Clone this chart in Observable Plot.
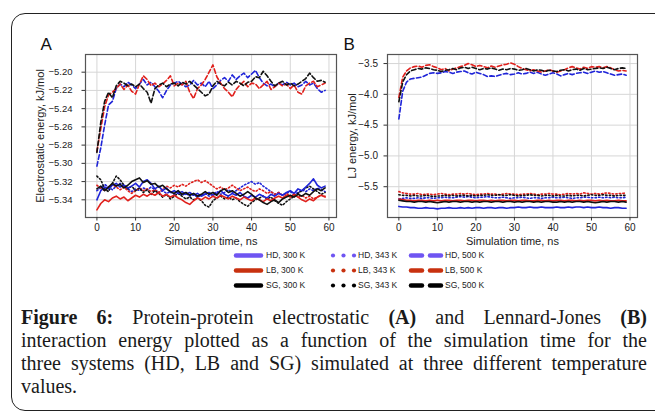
<!DOCTYPE html>
<html><head><meta charset="utf-8">
<script src="https://cdn.jsdelivr.net/npm/d3@7"></script>
<script src="https://cdn.jsdelivr.net/npm/@observablehq/plot@0.6"></script>
<style>
body{margin:0;background:#fff;width:655px;height:412px;overflow:hidden;position:relative;font-family:"Liberation Sans",Arial,sans-serif;}
#frame{position:absolute;left:11px;top:13px;width:700px;height:398px;border:1.4px solid #222;border-radius:14px;box-sizing:border-box;}
#pa{position:absolute;left:0;top:30px;}
#pb{position:absolute;left:330px;top:30px;}
#pa svg,#pb svg{background:transparent;overflow:visible;}
#legend{position:absolute;left:0;top:0;width:655px;height:300px;pointer-events:none;}
#caption{position:absolute;left:21px;width:626px;top:306px;font-family:"Liberation Serif","Times New Roman",serif;font-size:20px;line-height:23px;color:#1a1a1a;}
#caption .j{text-align:justify;text-align-last:justify;}
</style></head><body>
<div id="frame"></div>
<div id="pa"></div>
<div id="pb"></div>
<svg id="legend"></svg>
<div id="caption">
<div class="j"><b>Figure 6:</b> Protein-protein electrostatic <b>(A)</b> and Lennard-Jones <b>(B)</b></div>
<div class="j">interaction energy plotted as a function of the simulation time for the</div>
<div class="j">three systems (HD, LB and SG) simulated at three different temperature</div>
<div>values.</div>
</div>
<script>
const time = [0,1,2,3,4,5,6,7,8,9,10,11,12,13,14,15,16,17,18,19,20,21,22,23,24,25,26,27,28,29,30,31,32,33,34,35,36,37,38,39,40,41,42,43,44,45,46,47,48,49,50,51,52,53,54,55,56,57,58,59];
const systems = ["HD","LB","SG"];
const temps = ["300 K","343 K","500 K"];
const lineColors = ["#1f24d8","#e0201c","#111111"];
const legendColors = ["#6f55f2","#c8310f","#000000"];
const xTicks = [0,10,20,30,40,50,60];
const aYTicks = [-5.34,-5.32,-5.30,-5.28,-5.26,-5.24,-5.22,-5.20];
const bYTicks = [-5.5,-5.0,-4.5,-4.0,-3.5];

// Panel A: electrostatic energy
const A_HD_300 = [-5.340,-5.330,-5.326,-5.328,-5.324,-5.322,-5.326,-5.324,-5.327,-5.325,-5.322,-5.326,-5.320,-5.318,-5.322,-5.328,-5.325,-5.330,-5.327,-5.332,-5.330,-5.333,-5.331,-5.334,-5.332,-5.335,-5.333,-5.336,-5.334,-5.332,-5.335,-5.333,-5.330,-5.334,-5.336,-5.333,-5.335,-5.332,-5.336,-5.338,-5.335,-5.337,-5.334,-5.336,-5.338,-5.334,-5.336,-5.333,-5.335,-5.332,-5.330,-5.333,-5.328,-5.330,-5.326,-5.322,-5.317,-5.324,-5.327,-5.325];
const A_LB_300 = [-5.351,-5.344,-5.340,-5.342,-5.338,-5.336,-5.339,-5.337,-5.341,-5.338,-5.335,-5.337,-5.334,-5.336,-5.333,-5.335,-5.332,-5.336,-5.334,-5.337,-5.335,-5.338,-5.340,-5.343,-5.345,-5.341,-5.338,-5.340,-5.337,-5.339,-5.336,-5.338,-5.335,-5.337,-5.339,-5.336,-5.338,-5.340,-5.337,-5.339,-5.341,-5.338,-5.340,-5.342,-5.339,-5.341,-5.338,-5.336,-5.338,-5.335,-5.337,-5.334,-5.337,-5.340,-5.342,-5.339,-5.341,-5.337,-5.335,-5.337];
const A_SG_300 = [-5.328,-5.325,-5.330,-5.326,-5.322,-5.325,-5.323,-5.327,-5.324,-5.320,-5.318,-5.316,-5.321,-5.319,-5.323,-5.322,-5.326,-5.324,-5.328,-5.331,-5.333,-5.330,-5.334,-5.332,-5.335,-5.333,-5.336,-5.334,-5.331,-5.334,-5.332,-5.335,-5.330,-5.328,-5.332,-5.330,-5.333,-5.336,-5.334,-5.331,-5.334,-5.338,-5.340,-5.343,-5.345,-5.342,-5.340,-5.343,-5.339,-5.337,-5.335,-5.337,-5.334,-5.336,-5.333,-5.335,-5.331,-5.328,-5.330,-5.327];
const A_HD_343 = [-5.330,-5.327,-5.323,-5.326,-5.329,-5.325,-5.322,-5.325,-5.328,-5.331,-5.328,-5.330,-5.327,-5.329,-5.326,-5.329,-5.332,-5.330,-5.333,-5.331,-5.334,-5.332,-5.335,-5.333,-5.336,-5.334,-5.337,-5.335,-5.333,-5.336,-5.334,-5.331,-5.334,-5.332,-5.329,-5.332,-5.330,-5.327,-5.324,-5.322,-5.320,-5.323,-5.321,-5.325,-5.328,-5.331,-5.334,-5.332,-5.335,-5.333,-5.331,-5.334,-5.332,-5.329,-5.331,-5.328,-5.330,-5.327,-5.329,-5.331];
const A_LB_343 = [-5.324,-5.327,-5.330,-5.326,-5.323,-5.326,-5.329,-5.326,-5.330,-5.333,-5.330,-5.327,-5.330,-5.328,-5.331,-5.329,-5.332,-5.328,-5.325,-5.327,-5.324,-5.326,-5.323,-5.325,-5.322,-5.320,-5.318,-5.321,-5.319,-5.322,-5.325,-5.328,-5.326,-5.329,-5.327,-5.324,-5.327,-5.330,-5.328,-5.326,-5.329,-5.331,-5.328,-5.330,-5.333,-5.331,-5.334,-5.332,-5.335,-5.333,-5.336,-5.334,-5.337,-5.335,-5.338,-5.336,-5.339,-5.337,-5.335,-5.336];
const A_SG_343 = [-5.314,-5.318,-5.328,-5.331,-5.322,-5.314,-5.318,-5.324,-5.328,-5.325,-5.330,-5.327,-5.332,-5.329,-5.334,-5.330,-5.333,-5.337,-5.334,-5.339,-5.336,-5.333,-5.336,-5.339,-5.337,-5.340,-5.338,-5.341,-5.346,-5.348,-5.341,-5.338,-5.336,-5.339,-5.337,-5.340,-5.338,-5.342,-5.345,-5.347,-5.343,-5.340,-5.338,-5.336,-5.339,-5.337,-5.341,-5.344,-5.346,-5.342,-5.339,-5.336,-5.333,-5.330,-5.327,-5.325,-5.328,-5.331,-5.334,-5.332];
const A_HD_500 = [-5.303,-5.283,-5.258,-5.236,-5.232,-5.218,-5.213,-5.216,-5.211,-5.214,-5.218,-5.213,-5.208,-5.214,-5.211,-5.216,-5.221,-5.228,-5.220,-5.214,-5.212,-5.210,-5.213,-5.216,-5.214,-5.209,-5.214,-5.212,-5.216,-5.210,-5.218,-5.214,-5.209,-5.206,-5.210,-5.203,-5.208,-5.204,-5.201,-5.206,-5.202,-5.198,-5.206,-5.212,-5.215,-5.213,-5.216,-5.212,-5.214,-5.211,-5.214,-5.212,-5.216,-5.214,-5.210,-5.214,-5.212,-5.218,-5.222,-5.220];
const A_LB_500 = [-5.287,-5.262,-5.238,-5.225,-5.222,-5.218,-5.213,-5.219,-5.214,-5.221,-5.224,-5.213,-5.204,-5.208,-5.215,-5.212,-5.216,-5.213,-5.209,-5.204,-5.215,-5.212,-5.214,-5.210,-5.222,-5.229,-5.218,-5.214,-5.208,-5.200,-5.192,-5.205,-5.212,-5.218,-5.222,-5.227,-5.219,-5.214,-5.210,-5.216,-5.212,-5.213,-5.218,-5.214,-5.210,-5.219,-5.216,-5.212,-5.215,-5.213,-5.218,-5.214,-5.222,-5.224,-5.215,-5.212,-5.210,-5.216,-5.214,-5.212];
const A_SG_500 = [-5.288,-5.255,-5.232,-5.222,-5.228,-5.215,-5.210,-5.212,-5.215,-5.213,-5.216,-5.213,-5.218,-5.222,-5.234,-5.218,-5.214,-5.212,-5.216,-5.213,-5.212,-5.215,-5.211,-5.213,-5.210,-5.214,-5.218,-5.222,-5.226,-5.224,-5.215,-5.210,-5.213,-5.215,-5.211,-5.214,-5.210,-5.212,-5.215,-5.211,-5.210,-5.205,-5.206,-5.199,-5.204,-5.210,-5.215,-5.212,-5.210,-5.214,-5.212,-5.215,-5.213,-5.210,-5.207,-5.201,-5.206,-5.210,-5.209,-5.211];

// Panel B: Lennard-Jones energy
const B_HD_300 = [-5.82,-5.83,-5.83,-5.84,-5.84,-5.85,-5.85,-5.84,-5.85,-5.85,-5.86,-5.85,-5.85,-5.84,-5.85,-5.85,-5.84,-5.85,-5.84,-5.85,-5.84,-5.84,-5.85,-5.84,-5.84,-5.85,-5.84,-5.84,-5.85,-5.84,-5.84,-5.83,-5.84,-5.84,-5.83,-5.84,-5.84,-5.83,-5.84,-5.84,-5.84,-5.83,-5.84,-5.84,-5.83,-5.84,-5.83,-5.83,-5.84,-5.83,-5.84,-5.84,-5.83,-5.84,-5.84,-5.85,-5.84,-5.84,-5.85,-5.85];
const B_LB_300 = [-5.70,-5.71,-5.72,-5.72,-5.73,-5.72,-5.72,-5.73,-5.72,-5.73,-5.72,-5.73,-5.72,-5.72,-5.73,-5.72,-5.72,-5.73,-5.72,-5.72,-5.73,-5.72,-5.72,-5.73,-5.72,-5.73,-5.72,-5.72,-5.73,-5.72,-5.72,-5.73,-5.72,-5.72,-5.73,-5.73,-5.72,-5.72,-5.73,-5.72,-5.73,-5.72,-5.72,-5.73,-5.72,-5.72,-5.73,-5.72,-5.73,-5.72,-5.72,-5.73,-5.72,-5.73,-5.72,-5.73,-5.73,-5.72,-5.73,-5.73];
const B_SG_300 = [-5.72,-5.73,-5.74,-5.74,-5.75,-5.74,-5.74,-5.75,-5.74,-5.75,-5.76,-5.75,-5.74,-5.75,-5.74,-5.74,-5.75,-5.74,-5.74,-5.75,-5.74,-5.75,-5.74,-5.74,-5.75,-5.74,-5.74,-5.75,-5.74,-5.74,-5.75,-5.74,-5.75,-5.74,-5.74,-5.75,-5.74,-5.75,-5.74,-5.74,-5.75,-5.75,-5.74,-5.75,-5.74,-5.75,-5.74,-5.74,-5.75,-5.74,-5.75,-5.76,-5.75,-5.74,-5.75,-5.74,-5.74,-5.75,-5.74,-5.75];
const B_HD_343 = [-5.70,-5.69,-5.68,-5.69,-5.69,-5.68,-5.69,-5.68,-5.68,-5.69,-5.68,-5.68,-5.67,-5.68,-5.68,-5.67,-5.66,-5.67,-5.66,-5.67,-5.68,-5.67,-5.67,-5.66,-5.67,-5.68,-5.68,-5.67,-5.68,-5.69,-5.68,-5.68,-5.67,-5.68,-5.69,-5.68,-5.68,-5.69,-5.68,-5.68,-5.67,-5.68,-5.68,-5.67,-5.68,-5.69,-5.68,-5.68,-5.67,-5.67,-5.68,-5.68,-5.67,-5.68,-5.67,-5.68,-5.67,-5.68,-5.68,-5.67];
const B_LB_343 = [-5.58,-5.60,-5.61,-5.62,-5.62,-5.61,-5.63,-5.62,-5.62,-5.63,-5.62,-5.61,-5.62,-5.63,-5.62,-5.62,-5.61,-5.62,-5.61,-5.62,-5.63,-5.62,-5.62,-5.61,-5.62,-5.62,-5.63,-5.62,-5.61,-5.62,-5.62,-5.63,-5.62,-5.62,-5.61,-5.62,-5.63,-5.62,-5.62,-5.61,-5.62,-5.62,-5.63,-5.62,-5.61,-5.62,-5.61,-5.62,-5.60,-5.61,-5.62,-5.61,-5.62,-5.61,-5.60,-5.61,-5.62,-5.61,-5.61,-5.60];
const B_SG_343 = [-5.63,-5.64,-5.64,-5.65,-5.64,-5.65,-5.65,-5.64,-5.65,-5.66,-5.65,-5.65,-5.64,-5.65,-5.64,-5.65,-5.64,-5.64,-5.65,-5.64,-5.65,-5.64,-5.64,-5.63,-5.64,-5.64,-5.63,-5.64,-5.64,-5.63,-5.64,-5.65,-5.64,-5.64,-5.63,-5.64,-5.64,-5.65,-5.64,-5.64,-5.65,-5.64,-5.65,-5.65,-5.64,-5.65,-5.64,-5.64,-5.65,-5.64,-5.63,-5.64,-5.64,-5.63,-5.64,-5.64,-5.65,-5.64,-5.64,-5.64];
const B_HD_500 = [-4.40,-3.95,-3.80,-3.75,-3.74,-3.73,-3.72,-3.69,-3.66,-3.65,-3.66,-3.65,-3.63,-3.64,-3.66,-3.64,-3.63,-3.62,-3.65,-3.67,-3.64,-3.66,-3.68,-3.71,-3.70,-3.71,-3.69,-3.67,-3.66,-3.68,-3.67,-3.65,-3.67,-3.66,-3.64,-3.66,-3.64,-3.67,-3.69,-3.67,-3.65,-3.67,-3.70,-3.68,-3.66,-3.68,-3.66,-3.65,-3.64,-3.66,-3.64,-3.62,-3.64,-3.63,-3.65,-3.67,-3.69,-3.68,-3.67,-3.69];
const B_LB_500 = [-4.05,-3.72,-3.62,-3.57,-3.55,-3.54,-3.56,-3.53,-3.52,-3.55,-3.57,-3.60,-3.58,-3.62,-3.59,-3.57,-3.55,-3.53,-3.50,-3.52,-3.55,-3.53,-3.55,-3.57,-3.54,-3.56,-3.54,-3.52,-3.51,-3.49,-3.51,-3.55,-3.58,-3.60,-3.62,-3.60,-3.62,-3.64,-3.62,-3.60,-3.62,-3.64,-3.62,-3.60,-3.57,-3.55,-3.57,-3.59,-3.56,-3.58,-3.55,-3.56,-3.55,-3.57,-3.55,-3.57,-3.60,-3.62,-3.61,-3.62];
const B_SG_500 = [-4.12,-3.80,-3.68,-3.62,-3.60,-3.58,-3.59,-3.57,-3.58,-3.60,-3.61,-3.63,-3.61,-3.60,-3.58,-3.60,-3.57,-3.56,-3.58,-3.56,-3.58,-3.60,-3.58,-3.59,-3.57,-3.59,-3.61,-3.59,-3.60,-3.58,-3.59,-3.61,-3.60,-3.58,-3.60,-3.62,-3.60,-3.61,-3.63,-3.61,-3.62,-3.63,-3.61,-3.60,-3.62,-3.60,-3.59,-3.61,-3.58,-3.60,-3.59,-3.58,-3.57,-3.58,-3.56,-3.58,-3.60,-3.58,-3.57,-3.58];

function rows(seriesBySys, temp) {
  const out = [];
  systems.forEach((s, k) => seriesBySys[k].forEach((v, i) => out.push({t: time[i], v, sys: s, temp})));
  return out;
}
const dashStyle = {"300 K": null, "343 K": "1.4,2.2", "500 K": "4.5,2.5"};

function panel({series, yDomain, yTicks, fmt, letter, ylabel, width, marginLeft, marginRight, tickPadY, tickFont, ylabDx, letterDx}) {
  const marks = [
    Plot.gridX(xTicks, {stroke: "#d6d6d6", strokeOpacity: 1, strokeWidth: 1}),
    Plot.gridY(yTicks, {stroke: "#d6d6d6", strokeOpacity: 1, strokeWidth: 1})
  ];
  ["343 K", "300 K", "500 K"].forEach(temp => {
    const opts = {x: "t", y: "v", z: "sys", stroke: "sys", strokeWidth: 1.6, curve: "linear"};
    if (dashStyle[temp]) opts.strokeDasharray = dashStyle[temp];
    marks.push(Plot.line(rows(series[temp], temp), opts));
  });
  marks.push(
    Plot.frame({stroke: "#555", strokeWidth: 1.2}),
    Plot.axisX(xTicks, {tickSize: 3.5, tickPadding: 2.5, fontSize: 10, stroke: "#333", fill: "#222", label: null}),
    Plot.axisY(yTicks, {tickSize: 3.5, tickPadding: tickPadY, fontSize: tickFont, tickFormat: fmt, stroke: "#333", fill: "#222", label: null}),
    Plot.text(["Simulation time, ns"], {frameAnchor: "bottom", textAnchor: "middle", lineAnchor: "middle", dy: 23.5, fontSize: 11, fill: "#222"}),
    Plot.text([ylabel], {frameAnchor: "left", rotate: -90, textAnchor: "middle", lineAnchor: "middle", dx: ylabDx, fontSize: 11, fill: "#222"}),
    Plot.text([letter], {frameAnchor: "top-left", textAnchor: "start", lineAnchor: "top", dx: letterDx, dy: -17, fontSize: 17, fill: "#111"})
  );
  return Plot.plot({
    width, height: 230,
    marginLeft, marginRight, marginTop: 24, marginBottom: 43,
    style: {fontFamily: "'Liberation Sans', Arial, sans-serif", fontSize: "10px", background: "transparent", color: "#222"},
    x: {domain: [-2.95, 61.95]},
    y: {domain: yDomain},
    color: {domain: systems, range: lineColors},
    marks
  });
}

const minus = s => s.replace("-", "\u2212");
document.getElementById("pa").append(panel({
  series: {"300 K": [A_HD_300, A_LB_300, A_SG_300], "343 K": [A_HD_343, A_LB_343, A_SG_343], "500 K": [A_HD_500, A_LB_500, A_SG_500]},
  yDomain: [-5.3594, -5.1806], yTicks: aYTicks, fmt: d => minus(d.toFixed(2)),
  letter: "A", ylabel: "Electrostatic energy, kJ/mol",
  width: 345, marginLeft: 85, marginRight: 9, tickPadY: 9.5, tickFont: 9.5, ylabDx: -45, letterDx: -45
}));
document.getElementById("pb").append(panel({
  series: {"300 K": [B_HD_300, B_LB_300, B_SG_300], "343 K": [B_HD_343, B_LB_343, B_SG_343], "500 K": [B_HD_500, B_LB_500, B_SG_500]},
  yDomain: [-6.0, -3.353], yTicks: bYTicks, fmt: d => minus(d.toFixed(1)),
  letter: "B", ylabel: "LJ energy, kJ/mol",
  width: 325, marginLeft: 57, marginRight: 18, tickPadY: 6, tickFont: 10, ylabDx: -35, letterDx: -44
}));

// Legend
const lg = d3.select("#legend");
const rowY = [255.5, 270.5, 285.5];
const colSw = [[236, 261], [333, 354], [411, 441]];
const colTx = [266, 358, 445];
systems.forEach((s, r) => {
  const y = rowY[r], c = legendColors[r];
  lg.append("line").attr("x1", colSw[0][0]).attr("x2", colSw[0][1]).attr("y1", y).attr("y2", y)
    .attr("stroke", c).attr("stroke-width", 4.5).attr("stroke-linecap", "round");
  [0, 0.5, 1].forEach(f => lg.append("circle").attr("cx", colSw[1][0] + f * (colSw[1][1] - colSw[1][0])).attr("cy", y).attr("r", 2.1).attr("fill", c));
  const [a, b] = colSw[2];
  lg.append("line").attr("x1", a).attr("x2", a + 11).attr("y1", y).attr("y2", y).attr("stroke", c).attr("stroke-width", 4.5).attr("stroke-linecap", "round");
  lg.append("line").attr("x1", b - 11).attr("x2", b).attr("y1", y).attr("y2", y).attr("stroke", c).attr("stroke-width", 4.5).attr("stroke-linecap", "round");
  temps.forEach((t, k) => {
    lg.append("text").attr("x", colTx[k]).attr("y", y).attr("dy", "0.35em")
      .attr("font-size", 8.5).attr("fill", "#222").attr("font-family", "'Liberation Sans', Arial, sans-serif")
      .text(`${s}, ${t}`);
  });
});
</script>
</body></html>
